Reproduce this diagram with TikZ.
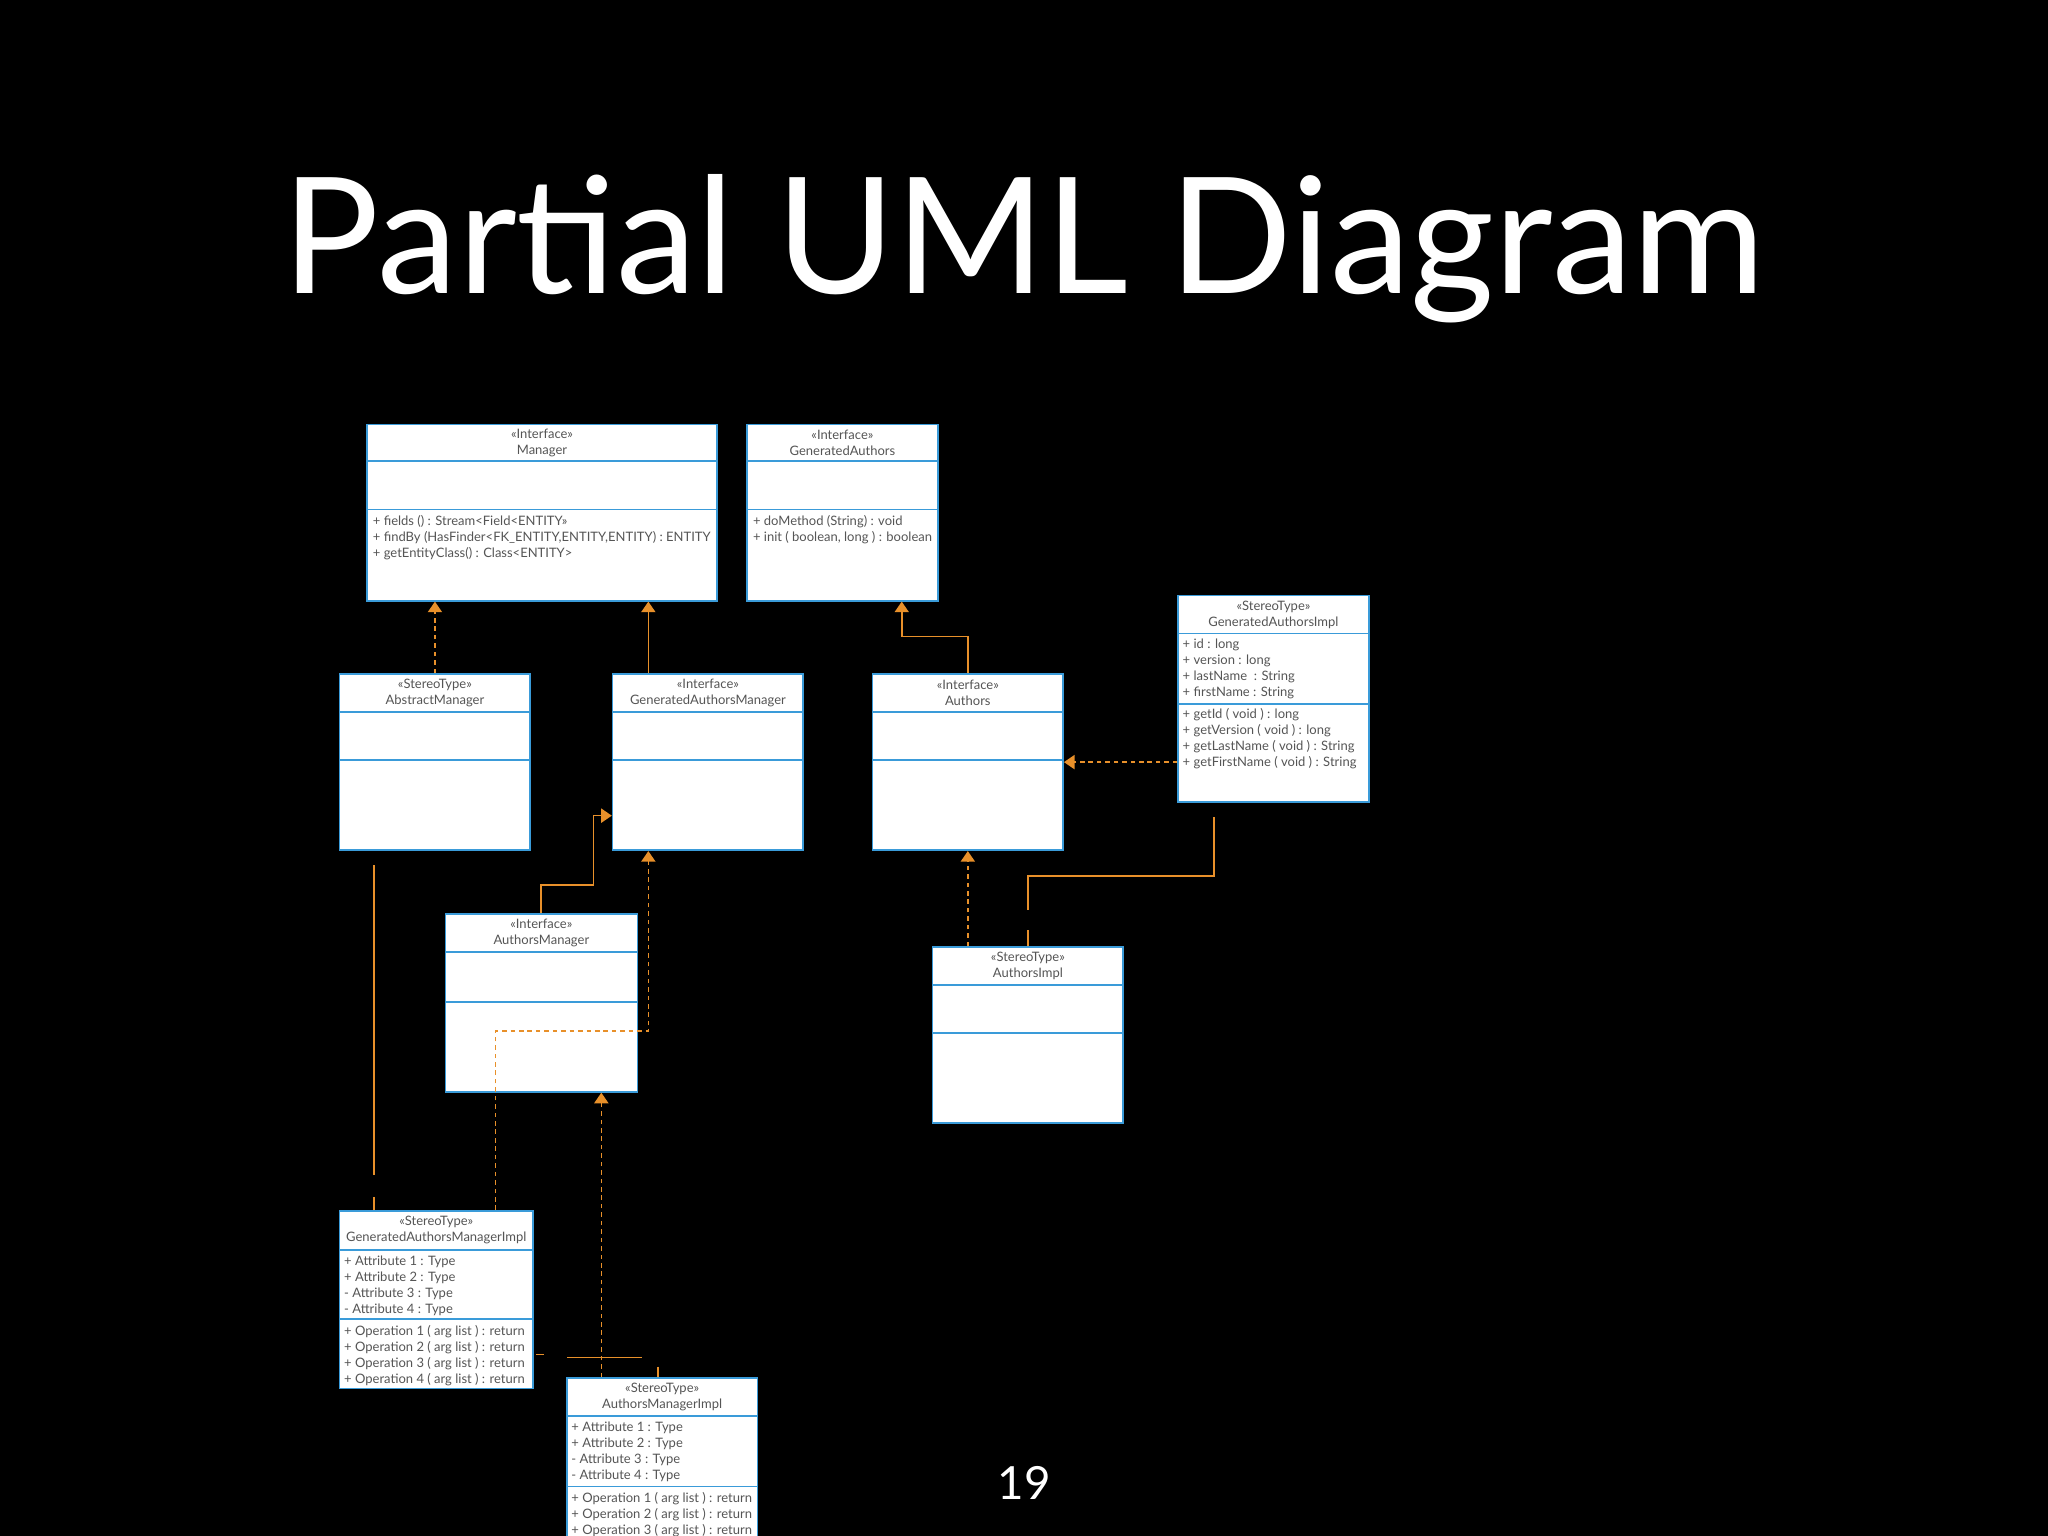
\documentclass[tikz,border=0pt]{standalone}
\usepackage{fontspec}
\setmainfont{Lato}
\usetikzlibrary{fit,calc,arrows.meta}
\definecolor{bl}{HTML}{3A9BD9}
\definecolor{og}{HTML}{E8902A}
\definecolor{tx}{HTML}{555555}
\tikzset{
 box/.style={draw=bl,fill=white,line width=0.45pt,inner sep=0pt},
 hd/.style={text=tx,align=center,font=\fontsize{3.7}{4.5}\selectfont,inner sep=0pt},
 bd/.style={text=tx,align=left,font=\fontsize{3.7}{4.55}\selectfont,inner sep=0pt,anchor=north west},
 con/.style={draw=og,line width=0.45pt},
 dsh/.style={con,dash pattern=on 1.3pt off 1.1pt},
 tri/.style={-{Triangle[width=4pt,length=3pt,fill=og]}}
}
\newcommand\ubox[8]{%
 \node[box,fit={(#2,#3)(#4,#5)}] (#1) {};
 \draw[bl,line width=0.45pt] (#2,#6) -- (#4,#6) (#2,#7) -- (#4,#7);
 \node[hd] at ({(#2+#4)/2},{(#3+#6)/2}) {#8};
}
\begin{document}
\begin{tikzpicture}[x=0.01306cm,y=-0.01306cm]
\fill[black] (0,0) rectangle (1568,1176);
\useasboundingbox (0,0) rectangle (1568,1176);
\node[white,font=\fontsize{46}{50}\selectfont,anchor=base] (title) at (784,225) {Partial UML Diagram};
\node[white,font=\fontsize{13}{15}\selectfont,anchor=base] (pg) at (784,1148) {19};

\ubox{man}{281}{325}{549}{460}{353}{390}{<<Interface>>\\Manager}
\node[bd] at (285,394) {+ fields () : Stream<Field<ENTITY>>\\+ findBy (HasFinder<FK\_ENTITY,ENTITY,ENTITY) : ENTITY\\+ getEntityClass() : Class<ENTITY>};
\ubox{ga}{572}{325}{718}{460}{353}{390}{<<Interface>>\\GeneratedAuthors}
\node[bd] at (576,394) {+ doMethod (String) : void\\+ init ( boolean, long ) : boolean};
\ubox{abs}{260}{516}{406}{651}{545}{582}{<<StereoType>>\\AbstractManager}
\ubox{gam}{469}{516}{615}{651}{545}{582}{<<Interface>>\\GeneratedAuthorsManager}
\ubox{au}{668}{516}{814}{651}{545}{582}{<<Interface>>\\Authors}
\ubox{gai}{902}{456}{1048}{614}{485}{539}{<<StereoType>>\\GeneratedAuthorsImpl}
\node[bd] at (905,489) {+ id : long\\+ version : long\\+ lastName~ : String\\+ firstName : String};
\node[bd] at (905,542) {+ getId ( void ) : long\\+ getVersion ( void ) : long\\+ getLastName ( void ) : String\\+ getFirstName ( void ) : String};
\ubox{am}{341}{700}{488}{836}{729}{767}{<<Interface>>\\AuthorsManager}
\ubox{ai}{714}{725}{860}{860}{754}{791}{<<StereoType>>\\AuthorsImpl}
\ubox{gami}{260}{927}{408}{1063}{957}{1010}{<<StereoType>>\\GeneratedAuthorsManagerImpl}
\node[bd] at (263,961) {+ Attribute 1 : Type\\+ Attribute 2 : Type\\- Attribute 3 : Type\\- Attribute 4 : Type};
\node[bd] at (263,1014) {+ Operation 1 ( arg list ) : return\\+ Operation 2 ( arg list ) : return\\+ Operation 3 ( arg list ) : return\\+ Operation 4 ( arg list ) : return};
\ubox{ami}{434}{1055}{580}{1190}{1084}{1138}{<<StereoType>>\\AuthorsManagerImpl}
\node[bd] at (437,1088) {+ Attribute 1 : Type\\+ Attribute 2 : Type\\- Attribute 3 : Type\\- Attribute 4 : Type};
\node[bd] at (437,1142) {+ Operation 1 ( arg list ) : return\\+ Operation 2 ( arg list ) : return\\+ Operation 3 ( arg list ) : return};

% connectors
\draw[dsh,tri] (abs.north) -- (abs.north |- man.south);
\coordinate (g1) at ($(gam.north west)+(28,0)$);
\draw[con,tri] (g1) -- (g1 |- man.south);
\coordinate (a1) at ($(ga.south west)+(119,0)$);
\draw[con,tri] (au.north) -- ++(0,-28) -| (a1);
\draw[dsh,tri] (gai.west |- au.east) -- (au.east);
\coordinate (m1) at ($(am.north west)+(74,0)$);
\coordinate (m2) at ($(gam.west)+(0,41)$);
\draw[con,tri] (m1) -- ++(0,-22) -- ++(40,0) |- (m2);
\coordinate (s1) at ($(gami.north west)+(120,0)$);
\coordinate (s2) at ($(gam.south west)+(28,0)$);
\draw[dsh,tri] (s1) -- ++(0,-137) -| (s2);
\coordinate (s3) at ($(ami.north west)+(27,0)$);
\draw[dsh,tri] (s3) -- (s3 |- am.south);
\draw[dsh,tri] (au.south |- ai.north) -- (au.south);
\coordinate (p1) at ($(gai.south west)+(28,11)$);
\coordinate (p2) at ($(ai.north)+(0,-28)$);
\draw[con] (p1) -- ++(0,45) -| (p2);
\draw[con] ($(ai.north)+(0,-12)$) -- (ai.north);
\coordinate (q1) at ($(abs.south west)+(27,11)$);
\coordinate (q2) at ($(gami.north west)+(27,-27)$);
\draw[con] (q1) -- (q2);
\draw[con] ($(gami.north west)+(27,-10)$) -- ($(gami.north west)+(27,0)$);
\draw[con] ($(gami.east)+(2,42)$) -- ++(6,0);
\draw[con] ($(ami.north west)+(1,-15)$) -- ++(57,0);
\draw[con] ($(ami.north)+(-3,-8)$) -- ++(0,8);
\end{tikzpicture}
\end{document}
